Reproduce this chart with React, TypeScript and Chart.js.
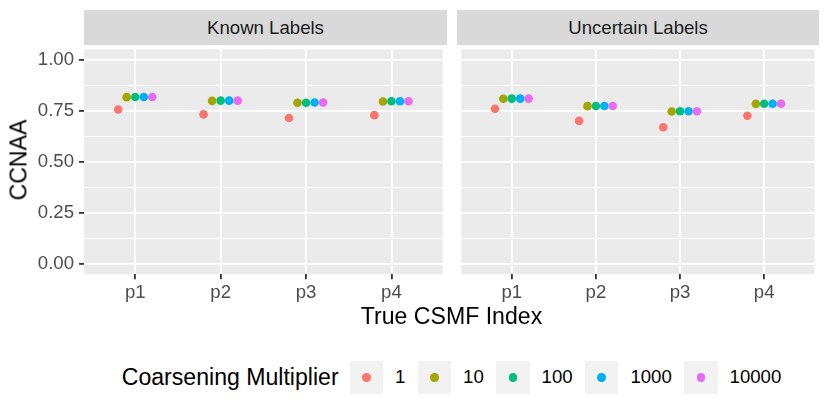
import React, { useEffect, useRef } from 'react';
import { Chart, registerables } from 'chart.js';

Chart.register(...registerables);

// ---------- data ----------
const categories = ['p1', 'p2', 'p3', 'p4'];
const panelTitles = ['Known Labels', 'Uncertain Labels'];
const multipliers = ['1', '10', '100', '1000', '10000'];
const colors = ['#F8766D', '#A3A500', '#00BF7D', '#00B0F6', '#E76BF3'];

const known_1 = [0.756, 0.732, 0.714, 0.728];
const known_10 = [0.816, 0.798, 0.789, 0.795];
const known_100 = [0.817, 0.799, 0.789, 0.796];
const known_1000 = [0.817, 0.799, 0.790, 0.796];
const known_10000 = [0.817, 0.799, 0.790, 0.796];

const uncertain_1 = [0.759, 0.700, 0.669, 0.725];
const uncertain_10 = [0.808, 0.772, 0.746, 0.783];
const uncertain_100 = [0.809, 0.773, 0.747, 0.784];
const uncertain_1000 = [0.809, 0.773, 0.747, 0.784];
const uncertain_10000 = [0.809, 0.773, 0.747, 0.784];

const yTicks = [0, 0.25, 0.5, 0.75, 1];
const yTickLabels = ['0.00', '0.25', '0.50', '0.75', '1.00'];

const knownSeries = [known_1, known_10, known_100, known_1000, known_10000];
const uncertainSeries = [uncertain_1, uncertain_10, uncertain_100, uncertain_1000, uncertain_10000];

// ---------- style ----------
const FONT = '"Liberation Sans", Arial, Helvetica, sans-serif';
const SMALL = 18.6;
const LARGE = 23.1;
const X_AXIS_H = 30.7;
const Y_AXIS_W = 84;

const minorY: number[] = [];
for (let i = 0; i < yTicks.length - 1; i++) minorY.push((yTicks[i] + yTicks[i + 1]) / 2);
const allY = [...yTicks, ...minorY].sort((a, b) => a - b);
const isMajorY = (v: number) => yTicks.indexOf(v) >= 0;

const bgPlugin = {
  id: 'panelBg',
  beforeDraw(chart: any) {
    const { ctx, chartArea } = chart;
    if (!chartArea) return;
    ctx.save();
    ctx.fillStyle = '#EBEBEB';
    ctx.fillRect(chartArea.left, chartArea.top, chartArea.right - chartArea.left, chartArea.bottom - chartArea.top);
    ctx.restore();
  },
};

function Panel({ series, showY, left, width }: { series: number[][]; showY: boolean; left: number; width: number }) {
  const ref = useRef<HTMLCanvasElement | null>(null);
  useEffect(() => {
    if (!ref.current) return;
    const datasets = series.map((vals, m) => ({
      label: multipliers[m],
      data: categories.map((_, i) => ({ x: i + 1 + (m - 2) * 0.1, y: vals[i] })),
      backgroundColor: colors[m],
      borderColor: colors[m],
      borderWidth: 0,
      pointRadius: 4.3,
      pointHoverRadius: 4.3,
      showLine: false,
      order: series.length - m,
    }));
    const chart = new Chart(ref.current, {
      type: 'scatter',
      data: { datasets },
      plugins: [bgPlugin],
      options: {
        animation: false,
        responsive: false,
        maintainAspectRatio: false,
        layout: { padding: 0 },
        plugins: { legend: { display: false }, tooltip: { enabled: false } },
        scales: {
          x: {
            type: 'linear',
            min: 0.4,
            max: 4.6,
            afterBuildTicks: (s: any) => {
              s.ticks = categories.map((_, i) => ({ value: i + 1 }));
            },
            afterFit: (s: any) => {
              s.height = X_AXIS_H;
              s.paddingLeft = 0;
              s.paddingRight = 0;
            },
            ticks: {
              autoSkip: false,
              maxRotation: 0,
              minRotation: 0,
              padding: 2.5,
              color: '#4D4D4D',
              font: { family: FONT, size: SMALL },
              callback: (v: any) => categories[Math.round(Number(v)) - 1] ?? '',
            },
            grid: {
              color: '#FFFFFF',
              lineWidth: 1.8,
              drawTicks: true,
              tickLength: 5,
              tickColor: '#333333',
              tickWidth: 1.8,
            },
            border: { display: false },
          },
          y: {
            type: 'linear',
            min: -0.05,
            max: 1.05,
            afterBuildTicks: (s: any) => {
              s.ticks = allY.map((v) => ({ value: v }));
            },
            afterFit: (s: any) => {
              s.width = showY ? Y_AXIS_W : 0;
              s.paddingTop = 0;
              s.paddingBottom = 0;
            },
            ticks: {
              display: showY,
              padding: 5,
              color: '#4D4D4D',
              font: { family: FONT, size: SMALL },
              callback: (v: any) => {
                const i = yTicks.indexOf(Number(v));
                return i >= 0 ? yTickLabels[i] : '';
              },
            },
            grid: {
              color: '#FFFFFF',
              lineWidth: (ctx: any) => (ctx.tick && isMajorY(ctx.tick.value) ? 1.8 : 0.9),
              drawTicks: showY,
              tickLength: 5,
              tickColor: (ctx: any) => (ctx.tick && isMajorY(ctx.tick.value) ? '#333333' : 'rgba(0,0,0,0)'),
              tickWidth: 1.8,
            },
            border: { display: false },
          },
        },
      } as any,
    });
    return () => chart.destroy();
  }, []);
  return (
    <canvas
      ref={ref}
      width={width}
      height={260}
      style={{ position: 'absolute', left, top: 45, width, height: 260 }}
    />
  );
}

function Strip({ text, left, width }: { text: string; left: number; width: number }) {
  return (
    <div
      style={{
        position: 'absolute',
        left,
        top: 10,
        width,
        height: 35,
        background: '#D9D9D9',
        color: '#1A1A1A',
        fontSize: SMALL,
        display: 'flex',
        alignItems: 'center',
        justifyContent: 'center',
      }}
    >
      {text}
    </div>
  );
}

export default function App() {
  return (
    <div
      style={{
        position: 'absolute',
        left: 0,
        top: 0,
        width: 830,
        height: 415,
        background: '#FFFFFF',
        fontFamily: FONT,
        overflow: 'hidden',
      }}
    >
      <Strip text={panelTitles[0]} left={84} width={363} />
      <Strip text={panelTitles[1]} left={457} width={362} />
      <Panel series={knownSeries} showY={true} left={0} width={447} />
      <Panel series={uncertainSeries} showY={false} left={457} width={362} />

      <div
        style={{
          position: 'absolute',
          left: 18.5,
          top: 159.7,
          transform: 'translate(-50%, -50%) rotate(-90deg)',
          fontSize: LARGE,
          lineHeight: `${LARGE}px`,
          whiteSpace: 'nowrap',
          color: '#000000',
        }}
      >
        CCNAA
      </div>

      <div
        style={{
          position: 'absolute',
          left: 0,
          width: 903,
          top: 304.5,
          textAlign: 'center',
          fontSize: LARGE,
          lineHeight: `${LARGE}px`,
          whiteSpace: 'nowrap',
          color: '#000000',
        }}
      >
        True CSMF Index
      </div>

      <div
        style={{
          position: 'absolute',
          left: 0,
          width: 903,
          top: 360.7,
          height: 33.3,
          display: 'flex',
          alignItems: 'center',
          justifyContent: 'center',
          whiteSpace: 'nowrap',
        }}
      >
        <span style={{ fontSize: LARGE, color: '#000000', marginRight: 11 }}>Coarsening Multiplier</span>
        {multipliers.map((m, i) => (
          <React.Fragment key={m}>
            <span
              style={{
                width: 33.3,
                height: 33.3,
                background: '#F2F2F2',
                display: 'flex',
                alignItems: 'center',
                justifyContent: 'center',
                marginLeft: i === 0 ? 0 : 12.5,
              }}
            >
              <span style={{ width: 8.6, height: 8.6, borderRadius: '50%', background: colors[i] }} />
            </span>
            <span style={{ fontSize: SMALL, color: '#000000', marginLeft: 12 }}>{m}</span>
          </React.Fragment>
        ))}
      </div>
    </div>
  );
}
